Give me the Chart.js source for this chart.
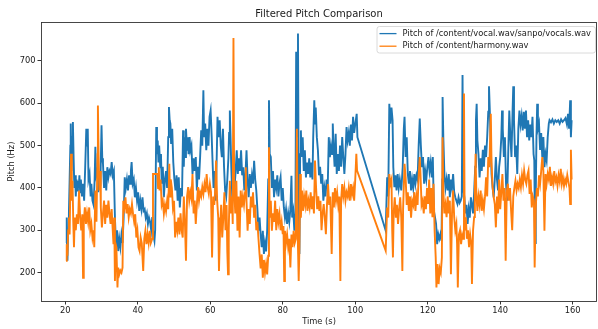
<!DOCTYPE html>
<html>
<head>
<meta charset="utf-8">
<script src="https://cdn.jsdelivr.net/npm/chart.js@4.4.0/dist/chart.umd.min.js"></script>
<style>
    html, body { margin: 0; padding: 0; background: #fff; }
    #wrap { width: 598px; height: 329px; }
</style>
</head>
<body>
<div id="wrap"><canvas id="pitchChart" width="598" height="329"></canvas></div>
<script>
// Pitch tracks: [time (s), pitch (Hz)]
const vocalTrack = [
    [20.2, 270], [20.4, 330], [20.6, 228], [20.8, 300], [21.0, 340], [21.2, 420], [21.4, 500], [21.5, 552], [21.7, 440], [21.9, 520],
    [22.1, 556], [22.3, 470], [22.5, 400], [22.7, 430], [22.9, 380], [23.1, 420], [23.3, 394], [23.5, 417], [23.7, 400], [23.9, 430],
    [24.1, 390], [24.3, 420], [24.6, 380], [24.9, 410], [25.2, 370], [25.5, 450], [25.8, 540], [26.0, 500], [26.2, 540], [26.4, 420],
    [26.7, 433], [27.0, 380], [27.2, 410], [27.5, 370], [27.8, 360], [28.1, 420], [28.3, 497], [28.5, 430], [28.8, 441], [29.1, 390],
    [29.4, 430], [29.7, 420], [30.0, 548], [30.2, 470], [30.4, 457], [30.7, 400], [31.0, 440], [31.3, 394], [31.6, 449], [31.9, 425],
    [32.2, 440], [32.5, 433], [32.8, 461], [33.1, 430], [33.4, 440], [33.7, 330], [34.0, 260], [34.3, 300], [34.6, 251], [34.9, 280],
    [35.2, 260], [35.5, 290], [35.8, 270], [36.1, 330], [36.4, 425], [36.7, 400], [37.0, 420], [37.3, 394], [37.6, 430], [37.9, 410],
    [38.1, 440], [38.3, 461], [38.6, 410], [38.9, 420], [39.2, 378], [39.5, 400], [39.8, 370], [40.1, 390], [40.4, 346], [40.7, 370],
    [41.0, 350], [41.3, 378], [41.6, 346], [41.9, 350], [42.2, 330], [42.5, 340], [42.8, 315], [43.1, 330], [43.4, 320], [43.7, 300],
    [44.0, 331], [44.3, 290], [44.6, 275], [44.8, 300], [45.1, 544], [45.3, 480], [45.5, 512], [45.7, 460], [45.9, 500], [46.2, 449],
    [46.4, 480], [46.6, 410], [46.9, 450], [47.2, 378], [47.5, 420], [47.8, 440], [48.1, 400], [48.4, 520], [48.6, 591], [48.8, 560],
    [49.0, 552], [49.2, 504], [49.5, 540], [49.8, 460], [50.1, 420], [50.4, 394], [50.7, 430], [51.0, 370], [51.3, 425], [51.6, 354],
    [51.9, 400], [52.2, 380], [52.5, 536], [52.7, 450], [52.9, 520], [53.1, 473], [53.3, 540], [53.6, 490], [53.8, 520], [54.0, 480],
    [54.3, 520], [54.5, 489], [54.8, 500], [55.1, 433], [55.4, 470], [55.7, 440], [56.0, 473], [56.3, 394], [56.6, 450], [56.9, 420],
    [57.2, 473], [57.5, 536], [57.8, 500], [58.1, 631], [58.3, 520], [58.6, 552], [58.9, 489], [59.2, 540], [59.5, 500], [59.8, 568],
    [60.1, 583], [60.4, 520], [60.6, 470], [60.9, 400], [61.2, 440], [61.5, 370], [61.8, 480], [62.0, 568], [62.3, 520], [62.6, 560],
    [62.9, 500], [63.2, 473], [63.5, 540], [63.8, 450], [64.1, 394], [64.4, 380], [64.7, 420], [65.0, 470], [65.2, 530], [65.4, 583],
    [65.6, 520], [65.8, 449], [66.1, 370], [66.4, 420], [66.7, 400], [67.0, 440], [67.3, 489], [67.6, 433], [67.9, 470], [68.2, 440],
    [68.5, 489], [68.8, 430], [69.1, 449], [69.4, 394], [69.7, 430], [70.0, 489], [70.3, 420], [70.6, 378], [70.9, 433], [71.2, 400],
    [71.5, 430], [71.8, 410], [72.1, 464], [72.4, 420], [72.7, 394], [73.0, 350], [73.3, 299], [73.6, 330], [73.9, 290], [74.2, 260],
    [74.5, 299], [74.8, 244], [75.1, 270], [75.4, 250], [75.7, 300], [76.0, 420], [76.2, 607], [76.4, 480], [76.7, 473], [77.0, 400],
    [77.3, 440], [77.6, 378], [77.9, 420], [78.2, 400], [78.5, 430], [78.8, 380], [79.1, 410], [79.4, 425], [79.7, 370], [80.0, 400],
    [80.3, 354], [80.6, 330], [80.9, 350], [81.2, 315], [81.5, 340], [81.8, 320], [82.1, 350], [82.4, 429], [82.6, 330], [82.9, 346],
    [83.2, 299], [83.5, 340], [83.7, 722], [83.8, 520], [84.0, 560], [84.2, 765], [84.4, 400], [84.6, 244], [84.8, 480], [85.0, 536],
    [85.2, 473], [85.5, 520], [85.8, 440], [86.1, 489], [86.4, 425], [86.7, 460], [87.0, 433], [87.3, 470], [87.6, 425], [87.9, 460],
    [88.2, 420], [88.4, 520], [88.7, 607], [88.9, 552], [89.1, 590], [89.4, 520], [89.7, 489], [90.0, 430], [90.3, 450], [90.6, 410],
    [90.9, 433], [91.2, 370], [91.5, 400], [91.8, 380], [92.1, 420], [92.4, 400], [92.7, 520], [93.0, 473], [93.3, 500], [93.6, 480],
    [93.8, 552], [94.0, 500], [94.3, 450], [94.6, 528], [94.9, 433], [95.2, 480], [95.5, 440], [95.8, 500], [96.1, 450], [96.4, 520],
    [96.7, 473], [97.0, 433], [97.3, 480], [97.6, 544], [97.9, 512], [98.2, 530], [98.5, 500], [98.8, 550], [99.1, 512], [99.4, 568],
    [99.7, 530], [100.0, 550], [100.4, 575], [100.6, 520], [108.4, 299], [108.8, 425], [109.1, 380], [109.4, 599], [109.7, 552], [110.0, 590],
    [110.3, 560], [110.5, 449], [110.8, 402], [111.1, 430], [111.4, 394], [111.7, 433], [112.0, 400], [112.3, 420], [112.7, 394], [113.1, 450],
    [113.4, 540], [113.6, 568], [113.9, 473], [114.2, 520], [114.5, 433], [114.8, 410], [115.1, 440], [115.4, 394], [115.7, 420], [116.0, 400],
    [116.3, 433], [116.6, 410], [116.9, 430], [117.2, 420], [117.5, 500], [117.8, 564], [118.1, 500], [118.4, 449], [118.7, 473], [119.0, 410],
    [119.3, 440], [119.6, 420], [119.9, 449], [120.2, 473], [120.5, 440], [120.8, 460], [121.1, 425], [121.4, 473], [121.7, 346], [122.0, 331],
    [122.3, 315], [122.6, 267], [122.9, 291], [123.2, 280], [123.5, 291], [123.8, 275], [124.0, 420], [124.1, 615], [124.3, 520], [124.6, 433],
    [124.9, 400], [125.2, 420], [125.5, 394], [125.8, 433], [126.1, 378], [126.4, 420], [126.7, 400], [127.0, 433], [127.3, 390], [127.6, 378],
    [127.9, 370], [128.2, 362], [128.5, 378], [128.8, 365], [129.1, 370], [129.4, 380], [129.6, 667], [129.8, 400], [130.1, 378], [130.4, 340],
    [130.7, 360], [131.0, 315], [131.3, 350], [131.6, 330], [131.9, 378], [132.2, 360], [132.5, 340], [132.8, 390], [133.1, 450], [133.3, 560],
    [133.5, 599], [133.7, 512], [134.0, 480], [134.3, 425], [134.6, 470], [134.9, 440], [135.2, 490], [135.5, 450], [135.8, 500], [136.1, 473],
    [136.4, 520], [136.7, 580], [136.9, 640], [137.1, 590], [137.4, 500], [137.6, 433], [137.9, 400], [138.2, 378], [138.5, 420], [138.8, 473],
    [139.1, 420], [139.4, 394], [139.7, 450], [140.0, 473], [140.3, 520], [140.5, 583], [140.7, 540], [141.0, 473], [141.3, 520], [141.6, 410],
    [141.9, 370], [142.2, 480], [142.5, 583], [142.8, 520], [143.1, 473], [143.4, 580], [143.6, 640], [143.8, 560], [144.1, 473], [144.4, 500],
    [144.7, 433], [145.0, 540], [145.3, 583], [145.6, 550], [145.9, 570], [146.2, 536], [146.5, 580], [146.8, 540], [147.1, 583], [147.4, 520],
    [147.7, 560], [148.0, 512], [148.3, 550], [148.6, 520], [148.9, 568], [149.2, 480], [149.4, 465], [149.6, 270], [149.8, 380], [150.0, 520],
    [150.2, 599], [150.4, 540], [150.7, 552], [151.0, 490], [151.3, 530], [151.6, 473], [151.9, 520], [152.2, 449], [152.5, 480], [152.8, 465],
    [153.1, 520], [153.4, 552], [153.6, 560], [154.0, 555], [154.4, 562], [154.8, 552], [155.2, 560], [155.6, 556], [156.0, 560], [156.4, 552],
    [156.8, 562], [157.2, 556], [157.6, 560], [158.0, 565], [158.4, 550], [158.7, 575], [159.0, 540], [159.3, 607], [159.5, 520], [159.7, 560]
];

const harmonyTrack = [
    [20.2, 228], [20.4, 267], [20.6, 240], [20.8, 300], [21.0, 330], [21.2, 290], [21.4, 400], [21.6, 481], [21.8, 370], [22.0, 417],
    [22.2, 320], [22.4, 260], [22.6, 330], [22.9, 300], [23.2, 338], [23.5, 315], [23.8, 394], [24.1, 330], [24.4, 300], [24.7, 338],
    [24.9, 188], [25.1, 320], [25.4, 354], [25.7, 315], [26.0, 340], [26.3, 320], [26.6, 354], [26.9, 300], [27.2, 315], [27.5, 283],
    [27.8, 300], [28.0, 260], [28.3, 394], [28.6, 320], [28.9, 480], [29.0, 595], [29.2, 473], [29.4, 394], [29.6, 440], [29.8, 354],
    [30.1, 307], [30.4, 340], [30.7, 370], [31.0, 315], [31.3, 360], [31.6, 330], [31.9, 370], [32.2, 340], [32.5, 315], [32.8, 350],
    [33.1, 299], [33.3, 267], [33.5, 330], [33.7, 180], [33.9, 267], [34.1, 260], [34.4, 165], [34.6, 212], [34.9, 196], [35.2, 205],
    [35.5, 200], [35.8, 212], [36.0, 370], [36.3, 354], [36.6, 378], [36.9, 340], [37.2, 362], [37.5, 331], [37.8, 350], [38.1, 340],
    [38.4, 362], [38.7, 338], [39.0, 320], [39.3, 338], [39.6, 283], [39.9, 300], [40.2, 260], [40.5, 251], [40.8, 283], [41.1, 270],
    [41.5, 204], [41.8, 280], [42.1, 299], [42.4, 267], [42.7, 290], [43.0, 270], [43.3, 299], [43.6, 270], [44.0, 280], [44.2, 433],
    [44.6, 433], [45.0, 433], [45.4, 433], [45.6, 400], [45.8, 449], [46.0, 394], [46.3, 420], [46.6, 360], [46.9, 370], [47.2, 339],
    [47.5, 360], [47.8, 345], [48.1, 370], [48.4, 350], [48.7, 457], [48.9, 380], [49.1, 420], [49.4, 400], [49.7, 354], [50.0, 370],
    [50.3, 283], [50.6, 320], [50.9, 300], [51.2, 330], [51.5, 290], [51.8, 340], [52.1, 300], [52.4, 283], [52.7, 380], [53.0, 320],
    [53.3, 228], [53.6, 380], [53.9, 402], [54.2, 370], [54.5, 390], [54.8, 375], [55.1, 433], [55.4, 340], [55.7, 370], [56.0, 315],
    [56.3, 360], [56.6, 402], [56.9, 370], [57.2, 390], [57.5, 380], [57.8, 402], [58.1, 386], [58.4, 409], [58.7, 390], [59.0, 433],
    [59.3, 400], [59.6, 386], [59.9, 409], [60.2, 390], [60.5, 236], [60.8, 380], [61.1, 360], [61.4, 400], [61.6, 465], [61.9, 370],
    [62.2, 330], [62.4, 204], [62.7, 300], [63.0, 360], [63.3, 283], [63.6, 330], [63.9, 390], [64.2, 300], [64.5, 360], [64.7, 250],
    [64.9, 196], [65.1, 300], [65.4, 417], [65.7, 340], [66.0, 380], [66.2, 315], [66.4, 754], [66.6, 400], [66.9, 340], [67.2, 417],
    [67.5, 299], [67.8, 380], [68.1, 283], [68.4, 394], [68.7, 354], [69.0, 380], [69.3, 360], [69.6, 390], [69.8, 449], [70.0, 370],
    [70.3, 299], [70.6, 350], [70.9, 315], [71.2, 380], [71.5, 354], [71.8, 390], [72.1, 330], [72.4, 360], [72.7, 300], [73.0, 320],
    [73.3, 280], [73.6, 243], [73.9, 210], [74.2, 243], [74.5, 188], [74.8, 230], [75.1, 200], [75.4, 220], [75.7, 196], [76.0, 240],
    [76.2, 496], [76.4, 330], [76.7, 370], [77.0, 299], [77.3, 340], [77.6, 320], [77.9, 370], [78.2, 300], [78.5, 350], [78.8, 320],
    [79.1, 338], [79.4, 300], [79.7, 320], [80.0, 291], [80.2, 310], [80.4, 180], [80.6, 299], [80.9, 270], [81.2, 290], [81.5, 260],
    [81.8, 280], [82.1, 212], [82.4, 290], [82.7, 260], [83.0, 299], [83.3, 270], [83.6, 280], [83.9, 540], [84.1, 300], [84.4, 180],
    [84.6, 260], [84.8, 433], [85.0, 330], [85.3, 394], [85.6, 346], [85.9, 380], [86.2, 360], [86.5, 394], [86.8, 346], [87.1, 370],
    [87.4, 354], [87.7, 390], [88.0, 350], [88.3, 380], [88.6, 340], [88.9, 465], [89.2, 400], [89.5, 350], [89.8, 380], [90.1, 346],
    [90.4, 370], [90.7, 300], [91.0, 340], [91.3, 362], [91.6, 330], [91.9, 291], [92.2, 360], [92.5, 409], [92.8, 360], [93.1, 380],
    [93.5, 244], [93.8, 390], [94.1, 354], [94.4, 400], [94.7, 370], [95.0, 390], [95.3, 360], [95.6, 380], [95.9, 180], [96.1, 370],
    [96.4, 409], [96.7, 380], [97.0, 400], [97.3, 370], [97.6, 390], [97.9, 380], [98.2, 400], [98.5, 370], [98.8, 409], [99.1, 385],
    [99.4, 400], [99.7, 370], [100.0, 420], [100.3, 481], [100.5, 441], [108.4, 252], [108.8, 354], [109.1, 330], [109.4, 433], [109.7, 410],
    [110.0, 420], [110.2, 300], [110.4, 236], [110.6, 340], [110.9, 378], [111.2, 330], [111.5, 360], [111.8, 315], [112.1, 350], [112.4, 378],
    [112.7, 330], [113.0, 204], [113.2, 350], [113.6, 457], [113.9, 425], [114.2, 360], [114.5, 390], [114.8, 346], [115.1, 380], [115.4, 330],
    [115.7, 370], [116.0, 360], [116.3, 390], [116.6, 346], [116.9, 380], [117.2, 360], [117.5, 430], [117.8, 473], [118.0, 433], [118.3, 360],
    [118.6, 370], [118.9, 340], [119.2, 380], [119.5, 350], [119.8, 400], [120.1, 362], [120.4, 420], [120.7, 340], [121.0, 400], [121.3, 331],
    [121.6, 410], [121.9, 299], [122.2, 236], [122.4, 165], [122.7, 220], [123.0, 173], [123.3, 210], [123.6, 200], [123.9, 236], [124.1, 520],
    [124.3, 394], [124.6, 340], [124.9, 360], [125.2, 331], [125.5, 380], [125.8, 340], [126.1, 370], [126.4, 196], [126.7, 340], [127.0, 394],
    [127.3, 331], [127.6, 300], [127.9, 315], [128.1, 267], [128.3, 165], [128.6, 290], [128.9, 300], [129.2, 267], [129.5, 290], [129.8, 280],
    [130.0, 623], [130.2, 300], [130.5, 331], [130.8, 280], [131.1, 300], [131.4, 260], [131.7, 290], [132.0, 270], [132.2, 173], [132.5, 300],
    [132.8, 331], [133.0, 400], [133.2, 481], [133.4, 390], [133.7, 346], [134.0, 380], [134.3, 360], [134.6, 394], [134.9, 346], [135.2, 370],
    [135.5, 350], [135.8, 380], [136.1, 425], [136.4, 380], [136.7, 473], [137.0, 449], [137.4, 575], [137.6, 460], [137.9, 402], [138.2, 378],
    [138.5, 362], [138.8, 307], [139.1, 380], [139.4, 340], [139.7, 420], [140.0, 350], [140.3, 390], [140.6, 433], [140.9, 370], [141.2, 400],
    [141.5, 228], [141.8, 390], [142.1, 410], [142.4, 370], [142.7, 400], [143.0, 346], [143.3, 300], [143.6, 380], [143.9, 400], [144.2, 417],
    [144.5, 394], [144.8, 410], [145.1, 400], [145.4, 420], [145.7, 402], [146.0, 430], [146.3, 410], [146.6, 441], [146.9, 420], [147.2, 410],
    [147.5, 430], [147.8, 441], [148.1, 386], [148.4, 420], [148.7, 354], [149.0, 380], [149.3, 370], [149.5, 212], [149.8, 354], [150.1, 400],
    [150.4, 380], [150.7, 430], [151.0, 410], [151.3, 440], [151.6, 473], [151.9, 441], [152.2, 299], [152.5, 433], [152.8, 410], [153.1, 433],
    [153.4, 420], [153.7, 450], [154.0, 405], [154.3, 425], [154.6, 410], [154.9, 440], [155.2, 415], [155.5, 425], [155.8, 405], [156.1, 430],
    [156.4, 415], [156.7, 445], [157.0, 410], [157.3, 425], [157.6, 405], [157.9, 420], [158.2, 410], [158.5, 430], [158.8, 415], [159.1, 400],
    [159.3, 362], [159.5, 490], [159.7, 420]
];

const xTickValues = [20, 40, 60, 80, 100, 120, 140, 160];
const yTickValues = [200, 300, 400, 500, 600, 700];

const vocalLabel = 'Pitch of /content/vocal.wav/sanpo/vocals.wav';
const harmonyLabel = 'Pitch of /content/harmony.wav';
const blue = '#1f77b4';
const orange = '#ff7f0e';
const FONT = '"DejaVu Sans", sans-serif';

function toPoints(track) {
    return track.map(p => ({ x: p[0], y: p[1] }));
}

// title, frame and legend drawn the matplotlib way
const decorations = {
    id: 'decorations',
    afterDraw(chart) {
        const ctx = chart.ctx;
        const area = chart.chartArea;
        ctx.save();

        ctx.strokeStyle = '#333';
        ctx.lineWidth = 0.9;
        ctx.strokeRect(Math.round(area.left) + 0.5, Math.round(area.top) + 0.5,
            Math.round(area.right - area.left) - 1, Math.round(area.bottom - area.top));

        ctx.fillStyle = '#1a1a1a';
        ctx.font = '10px ' + FONT;
        ctx.textAlign = 'center';
        ctx.textBaseline = 'middle';
        ctx.fillText('Filtered Pitch Comparison', (area.left + area.right) / 2, 14);

        // legend box
        const bx = 377, by = 26.5, bw = 218.5, bh = 26.5, r = 2.5;
        ctx.beginPath();
        ctx.moveTo(bx + r, by);
        ctx.arcTo(bx + bw, by, bx + bw, by + bh, r);
        ctx.arcTo(bx + bw, by + bh, bx, by + bh, r);
        ctx.arcTo(bx, by + bh, bx, by, r);
        ctx.arcTo(bx, by, bx + bw, by, r);
        ctx.closePath();
        ctx.fillStyle = 'rgba(255,255,255,0.8)';
        ctx.fill();
        ctx.strokeStyle = '#d0d0d0';
        ctx.lineWidth = 0.8;
        ctx.stroke();

        const rows = [[vocalLabel, blue, 33.6], [harmonyLabel, orange, 46.2]];
        ctx.font = '8.3px ' + FONT;
        ctx.textAlign = 'left';
        rows.forEach(([text, color, y]) => {
            ctx.strokeStyle = color;
            ctx.lineWidth = 1.3;
            ctx.beginPath();
            ctx.moveTo(379.5, y);
            ctx.lineTo(396.5, y);
            ctx.stroke();
            ctx.fillStyle = '#1a1a1a';
            ctx.fillText(text, 402.5, y);
        });
        ctx.restore();
    }
};

const ctx = document.getElementById('pitchChart').getContext('2d');
new Chart(ctx, {
    type: 'line',
    data: {
        datasets: [{
            label: vocalLabel,
            data: toPoints(vocalTrack),
            borderColor: blue,
            backgroundColor: blue,
            borderWidth: 1.9,
            pointRadius: 0,
            tension: 0,
            order: 1
        },
        {
            label: harmonyLabel,
            data: toPoints(harmonyTrack),
            borderColor: orange,
            backgroundColor: orange,
            borderWidth: 1.9,
            pointRadius: 0,
            tension: 0,
            order: 0
        }]
    },
    options: {
        responsive: false,
        animation: false,
        devicePixelRatio: 1,
        layout: { padding: { top: 22, right: 1, left: 0, bottom: 0 } },
        plugins: {
            legend: { display: false },
            tooltip: { enabled: false }
        },
        scales: {
            x: {
                type: 'linear',
                min: 13.3,
                max: 166.7,
                afterBuildTicks: scale => { scale.ticks = xTickValues.map(v => ({ value: v })); },
                afterFit: scale => { scale.height = 28; },
                grid: { drawOnChartArea: false, tickLength: 3.5, color: '#333' },
                border: { display: false },
                ticks: { font: { family: FONT, size: 8.3 }, color: '#1a1a1a', padding: 1, maxRotation: 0 },
                title: { display: true, text: 'Time (s)', font: { family: FONT, size: 8.3 }, color: '#1a1a1a', padding: { top: 0, bottom: 2 } }
            },
            y: {
                min: 133,
                max: 792,
                afterBuildTicks: scale => { scale.ticks = yTickValues.map(v => ({ value: v })); },
                afterFit: scale => { scale.width = 41; },
                grid: { drawOnChartArea: false, tickLength: 3.5, color: '#333' },
                border: { display: false },
                ticks: { font: { family: FONT, size: 8.3 }, color: '#1a1a1a', padding: 2 },
                title: { display: true, text: 'Pitch (Hz)', font: { family: FONT, size: 8.3 }, color: '#1a1a1a', padding: { top: 6.4, bottom: 0 } }
            }
        }
    },
    plugins: [decorations]
});
</script>
</body>
</html>
